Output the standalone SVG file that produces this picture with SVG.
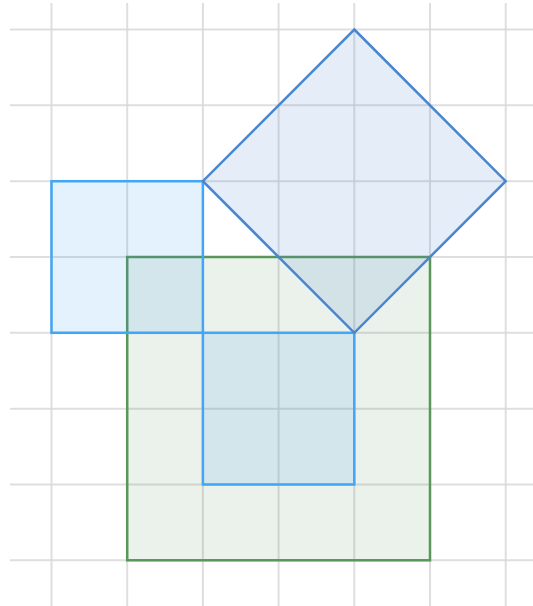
<svg xmlns="http://www.w3.org/2000/svg" width="533" height="606" viewBox="0 0 533 606">
<style>
.grid line{stroke:#d9d9d9;stroke-width:2;opacity:0.85}
.blue{fill:#2196f3;fill-opacity:0.12;stroke:#42a5f5;stroke-width:2.5}
.diamond{fill:#4a86d0;fill-opacity:0.15;stroke:#4a86d0;stroke-width:2.5;stroke-linejoin:miter}
.green{fill:#4c8c4c;fill-opacity:0.11;stroke:#5a955a;stroke-width:2.5}
</style>
<rect width="533" height="606" fill="#ffffff"/>
<g class="grid" id="grid">
<line x1="51.5" y1="3" x2="51.5" y2="606"/>
<line x1="127.2" y1="3" x2="127.2" y2="606"/>
<line x1="202.9" y1="3" x2="202.9" y2="606"/>
<line x1="278.6" y1="3" x2="278.6" y2="606"/>
<line x1="354.3" y1="3" x2="354.3" y2="606"/>
<line x1="430" y1="3" x2="430" y2="606"/>
<line x1="505.7" y1="3" x2="505.7" y2="606"/>
<line x1="10" y1="29.5" x2="533" y2="29.5"/>
<line x1="10" y1="105.3" x2="533" y2="105.3"/>
<line x1="10" y1="181.2" x2="533" y2="181.2"/>
<line x1="10" y1="257" x2="533" y2="257"/>
<line x1="10" y1="332.8" x2="533" y2="332.8"/>
<line x1="10" y1="408.7" x2="533" y2="408.7"/>
<line x1="10" y1="484.5" x2="533" y2="484.5"/>
<line x1="10" y1="560.3" x2="533" y2="560.3"/>
</g>
<g id="green-square">
<rect class="green" x="127.2" y="257" width="302.8" height="303.3"/>
</g>
<g id="blue-square-1">
<rect class="blue" x="51.5" y="181.2" width="151.4" height="151.6"/>
</g>
<g id="blue-square-2">
<rect class="blue" x="202.9" y="332.8" width="151.4" height="151.7"/>
</g>
<g id="diamond">
<polygon class="diamond" points="354.3,29.5 505.7,181.2 354.3,332.8 202.9,181.2"/>
</g>
</svg>
